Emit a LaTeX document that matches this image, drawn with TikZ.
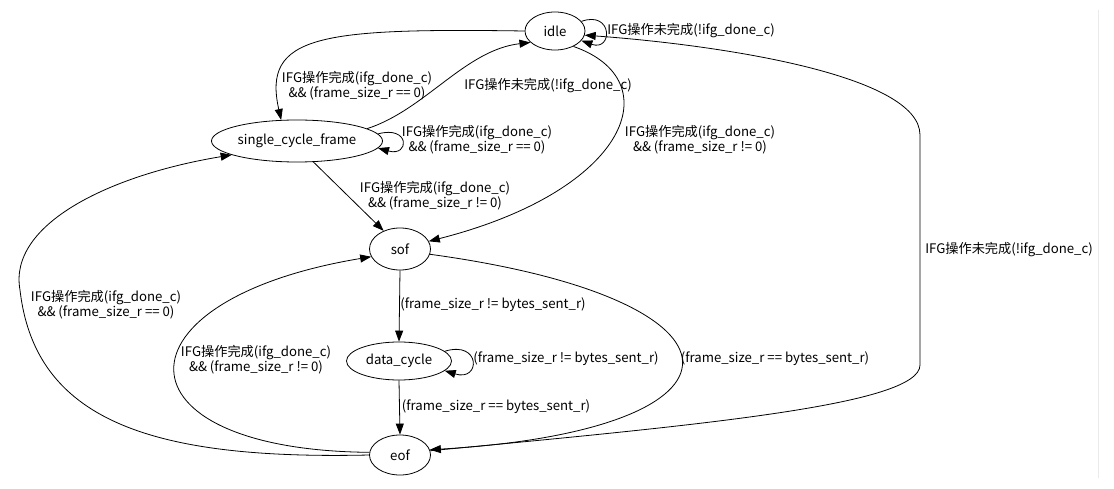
\documentclass[tikz,border=0pt]{standalone}
\usepackage{fontspec}
\setmainfont{Noto Sans CJK SC}
\usetikzlibrary{shapes.geometric,arrows.meta}
\begin{document}
\begin{tikzpicture}[x=1pt,y=-1pt,
  state/.style={draw,ellipse,line width=0.8pt,inner sep=0pt,font=\fontsize{13.2}{15}\selectfont},
  lbl/.style={align=center,inner sep=0pt,font=\fontsize{13.2}{15}\selectfont},
  tr/.style={draw,line width=0.8pt,-{Triangle[length=11pt,width=8pt]}}]
\useasboundingbox (0,0) rectangle (1114,489);
\draw[black!8,line width=0.8pt] (1098,10) -- (1098,478);

\node[state,minimum width=60pt,minimum height=38pt] (idle) at (555,31) {\makebox[0pt]{idle}};
\node[state,minimum width=171pt,minimum height=42pt] (scf) at (297,141) {\makebox[0pt]{single\_cycle\_frame}};
\node[state,minimum width=61pt,minimum height=42pt] (sof) at (400,249) {\makebox[0pt]{sof}};
\node[state,minimum width=105pt,minimum height=38pt] (dc) at (399,361) {\makebox[0pt]{data\_cycle}};
\node[state,minimum width=61pt,minimum height=40pt] (eof) at (400,455) {\makebox[0pt]{eof}};

\draw[tr] (idle.180) .. controls (320,28) and (262,35) .. (scf.127);
\draw[tr] (scf.10) .. controls (425,110) and (465,50) .. (idle.205);
\draw[tr] (scf.5) .. controls (410,125) and (410,157) .. (scf.-5);
\draw[tr] (scf.-52) -- (sof.132);
\draw[tr] (idle.-40) .. controls (670,80) and (630,190) .. (sof.15);
\draw[tr] (idle.20) .. controls (613,10) and (613,52) .. (idle.-20);
\coordinate (r1) at (920,365);
\coordinate (r2) at (920,135);
\draw[tr] (eof.8) .. controls (700,425) and (920,405) .. (r1) -- (r2) .. controls (920,75) and (720,45) .. (idle.-8);
\coordinate (l1) at (20,290);
\draw[tr] (eof.180) .. controls (150,460) and (35,420) .. (l1) .. controls (8,224) and (110,175) .. (scf.192);
\draw[tr] (eof.175) .. controls (110,450) and (110,300) .. (sof.195);
\draw[tr] (sof.south) -- (dc.north);
\draw[tr] (dc.12) .. controls (481,340) and (481,382) .. (dc.-12);
\draw[tr] (dc.south) -- (eof.north);
\draw[tr] (sof.-10) .. controls (765,300) and (765,430) .. (eof.10);

\node[lbl] (t1) at (357,86) {IFG操作完成(ifg\_done\_c)\\ \&\& (frame\_size\_r == 0)};
\node[lbl] (t2) at (548,86) {IFG操作未完成(!ifg\_done\_c)};
\node[lbl] (t3) at (477,140) {IFG操作完成(ifg\_done\_c)\\ \&\& (frame\_size\_r == 0)};
\node[lbl] (t4) at (435,196) {IFG操作完成(ifg\_done\_c)\\ \&\& (frame\_size\_r != 0)};
\node[lbl] (t5) at (700,140) {IFG操作完成(ifg\_done\_c)\\ \&\& (frame\_size\_r != 0)};
\node[lbl] (t6) at (691,31) {IFG操作未完成(!ifg\_done\_c)};
\node[lbl] (t7) at (1009,250) {IFG操作未完成(!ifg\_done\_c)};
\node[lbl] (t8) at (106,305) {IFG操作完成(ifg\_done\_c)\\ \&\& (frame\_size\_r == 0)};
\node[lbl] (t9) at (256,360) {IFG操作完成(ifg\_done\_c)\\ \&\& (frame\_size\_r != 0)};
\node[lbl] (t10) at (493,305) {(frame\_size\_r != bytes\_sent\_r)};
\node[lbl] (t11) at (566,359) {(frame\_size\_r != bytes\_sent\_r)};
\node[lbl] (t12) at (496,407) {(frame\_size\_r == bytes\_sent\_r)};
\node[lbl] (t13) at (775,359) {(frame\_size\_r == bytes\_sent\_r)};
\end{tikzpicture}
\end{document}
